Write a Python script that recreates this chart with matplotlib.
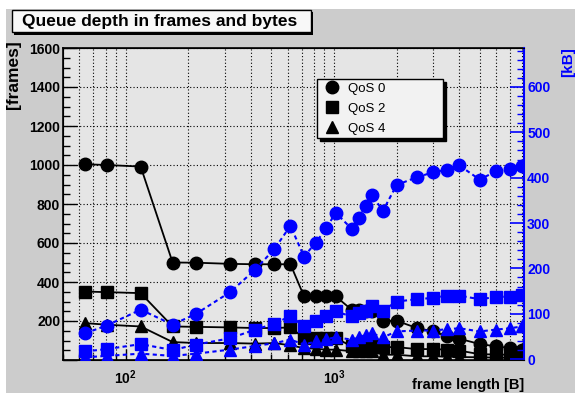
import numpy as np
import matplotlib.pyplot as plt
from matplotlib.patches import Rectangle
from matplotlib.lines import Line2D
from matplotlib.ticker import FixedLocator, MultipleLocator, NullFormatter, FuncFormatter, LogLocator

plt.rcParams['font.family'] = ['Liberation Sans', 'DejaVu Sans']
plt.rcParams['mathtext.fontset'] = 'custom'
plt.rcParams['mathtext.rm'] = 'Liberation Sans'
plt.rcParams['mathtext.bf'] = 'Liberation Sans:bold'

# frame length [B]
frame_len = [64, 81, 118, 168, 218, 318, 418, 518, 618, 718, 818, 918, 1018,
             1218, 1318, 1418, 1518, 1718, 2000, 2500, 3000, 3500, 4000,
             5000, 6000, 7000, 8000]

# queue depth in frames (left axis)
qos0_frames = [1004, 1000, 992, 500, 499, 493, 491, 491, 491, 327, 327, 327, 327,
               257, 255, 253, 250, 201, 201, 164, 147, 121, 109, 82, 70, 61, 53]
qos2_frames = [351, 348, 343, 172, 170, 167, 164, 164, 167, 113, 113, 113, 113,
               70, 72, 75, 78, 66, 66, 56, 56, 53, 48, 30, 28, 27, 25]
qos4_frames = [189, 181, 172, 92, 87, 87, 84, 87, 75, 61, 58, 53, 53,
               45, 45, 45, 45, 27, 27, 19, 19, 17, 15, 14, 12, 12, 11]

# queue depth in kB (right axis)
qos0_kb = [57, 74, 109, 76, 100, 148, 197, 243, 294, 226, 257, 288, 323,
           287, 312, 338, 362, 327, 384, 401, 412, 418, 427, 396, 414, 420, 426]
qos2_kb = [17, 22, 33, 20, 32, 46, 65, 78, 95, 72, 83, 95, 105,
           94, 101, 107, 116, 107, 127, 132, 135, 140, 140, 132, 137, 138, 142]
qos4_kb = [4, 7, 12, 7, 12, 21, 29, 35, 43, 32, 39, 44, 48,
           43, 48, 54, 57, 48, 61, 63, 63, 66, 68, 61, 65, 68, 72]

labels = ['QoS 0', 'QoS 2', 'QoS 4']
markers = ['o', 's', '^']
msizes = [9, 8.5, 9]

W, H = 579, 395
fig = plt.figure(figsize=(W / 100, H / 100), dpi=100)
fig.patch.set_facecolor('white')

# grey canvas
fig.patches.append(Rectangle((6 / W, 1 - 393 / H), 569 / W, 384 / H,
                             transform=fig.transFigure, fc='#cccccc', ec='none', zorder=-5))

ax = fig.add_axes([63 / W, 1 - 360 / H, (524.3 - 63) / W, (360 - 48) / H])
ax.set_facecolor('#e5e5e5')
ax.set_xscale('log')
ax.set_xlim(50, 8200)
ax.set_ylim(0, 1600)

for y, m, ms in zip([qos0_frames, qos2_frames, qos4_frames], markers, msizes):
    ax.plot(frame_len, y, color='black', lw=1.3, marker=m, ms=ms, zorder=3)

ax.yaxis.set_major_locator(MultipleLocator(200))
ax.yaxis.set_minor_locator(MultipleLocator(50))
ax.yaxis.set_major_formatter(FuncFormatter(lambda v, p: '' if v == 0 else '%d' % v))
ax.xaxis.set_major_locator(FixedLocator([100, 1000]))
ax.xaxis.set_minor_locator(LogLocator(base=10, subs=np.arange(2, 10)))
ax.xaxis.set_major_formatter(FuncFormatter(lambda v, p: r'$\mathbf{10^{%d}}$' % round(np.log10(v))))
ax.xaxis.set_minor_formatter(NullFormatter())

ax.tick_params(axis='y', which='major', direction='in', length=10, width=1, labelsize=10, pad=2)
ax.tick_params(axis='y', which='minor', direction='in', length=5, width=1)
ax.tick_params(axis='x', which='major', direction='in', length=8, width=1, labelsize=10, pad=6)
ax.tick_params(axis='x', which='minor', direction='in', length=4, width=1)
for t in ax.get_yticklabels():
    t.set_fontweight('bold')

ax.grid(True, axis='x', which='both', color='black', lw=0.8, ls=(0, (1, 2)))
ax.grid(True, axis='y', which='major', color='black', lw=0.8, ls=(0, (1, 2)))
ax.set_axisbelow(True)
for s in ax.spines.values():
    s.set_linewidth(1.2)

ax2 = ax.twinx()
ax2.set_ylim(-2, 686)
for y, m, ms in zip([qos0_kb, qos2_kb, qos4_kb], markers, msizes):
    ax2.plot(frame_len, y, color='#0000ff', lw=1.5, ls=(0, (2, 1.6)), marker=m, ms=ms, zorder=3)
ax2.yaxis.set_major_locator(MultipleLocator(100))
ax2.yaxis.set_minor_locator(MultipleLocator(20))
ax2.tick_params(axis='y', which='major', direction='in', length=10, width=1.2,
                colors='#0000ff', labelsize=10, pad=2)
ax2.tick_params(axis='y', which='minor', direction='in', length=5, width=1, colors='#0000ff')
for t in ax2.get_yticklabels():
    t.set_fontweight('bold')
ax2.spines['right'].set_color('#0000ff')
ax2.spines['right'].set_linewidth(1.5)

# axis titles
fig.text(14 / W, 1 - 40 / H, '[frames]', rotation=90, ha='center', va='top',
         fontsize=12.5, fontweight='bold')
fig.text(568 / W, 1 - 47 / H, '[kB]', rotation=90, ha='center', va='top',
         fontsize=11, fontweight='bold', color='#0000ff')
fig.text(524 / W, 1 - 385 / H, 'frame length [B]', ha='right', va='center',
         fontsize=10.5, fontweight='bold')

# title box with shadow
fig.patches.append(Rectangle((14 / W, 1 - 34.5 / H), 299 / W, 22.5 / H,
                             transform=fig.transFigure, fc='black', ec='none', zorder=5))
fig.patches.append(Rectangle((12 / W, 1 - 32.3 / H), 299 / W, 22.3 / H,
                             transform=fig.transFigure, fc='#f8f8f8', ec='black', lw=1, zorder=6))
fig.text(160 / W, 1 - 21.5 / H, 'Queue depth in frames and bytes', ha='center', va='center',
         fontsize=12.5, fontweight='bold', zorder=7)

# legend
handles = [Line2D([], [], color='black', marker=m, ms=ms, ls='none')
           for m, ms in zip(markers, msizes)]
leg = ax2.legend(handles, labels, loc='upper left',
                 bbox_to_anchor=(317 / W, 1 - 136.7 / H, 126 / W, 57.7 / H),
                 bbox_transform=fig.transFigure, mode='expand', borderaxespad=0,
                 fancybox=False, framealpha=1, facecolor='#f2f2f2', edgecolor='black',
                 fontsize=9.5, labelspacing=0.6, handlelength=1.8, handletextpad=0.3,
                 borderpad=0.25, shadow={'color': 'black', 'alpha': 1})
leg.get_frame().set_linewidth(1)

fig.savefig('out.png', dpi=100)
